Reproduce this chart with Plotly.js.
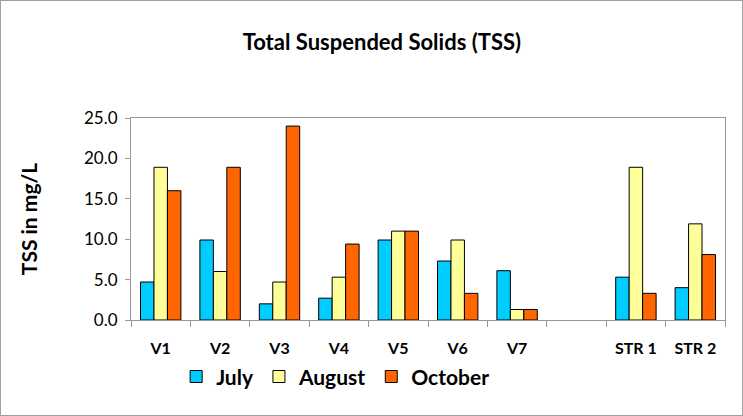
<!DOCTYPE html>
<html>
<head>
<meta charset="utf-8">
<script src="https://cdn.plot.ly/plotly-3.0.1.min.js"></script>
<style>
  body { margin: 0; background: #fff; }
  #tss_graph { width: 741px; height: 414px; border: 1px solid #a0a0a0; }
</style>
</head>
<body>
<div id="tss_graph"></div>
<script>
var sites = ['V1', 'V2', 'V3', 'V4', 'V5', 'V6', 'V7', ' ', 'STR 1', 'STR 2'];
var july = [4.7, 9.9, 2.0, 2.7, 9.9, 7.3, 6.1, null, 5.3, 4.0];
var august = [18.9, 6.0, 4.7, 5.3, 11.0, 9.9, 1.3, null, 18.9, 11.9];
var october = [16.0, 18.9, 24.0, 9.4, 11.0, 3.3, 1.3, null, 3.3, 8.1];

function series(name, y, color) {
  return {
    x: sites,
    y: y,
    type: 'bar',
    name: name,
    marker: { color: color, line: { color: '#000', width: 1 } }
  };
}

var data_tss = [
  series('July', july, '#00CCFF'),
  series('August', august, '#FFFF99'),
  series('October', october, '#FF6600')
];

var layout_tss = {
  width: 741,
  height: 414,
  margin: { l: 130, r: 17, t: 117, b: 95 },
  paper_bgcolor: '#fff',
  plot_bgcolor: '#fff',
  font: { family: 'Lato, "Open Sans", sans-serif', color: '#000' },
  title: {
    text: '<b>Total Suspended Solids (TSS)</b>',
    font: { size: 22 },
    xref: 'container', x: 0.514,
    yref: 'container', y: 0.9, yanchor: 'middle'
  },
  barmode: 'group',
  bargap: 0.32,
  bargroupgap: 0,
  showlegend: true,
  legend: {
    orientation: 'h',
    x: 0.076, xanchor: 'left',
    y: -0.18, yanchor: 'top',
    font: { size: 21, weight: 'bold' },
    itemwidth: 30,
    tracegroupgap: 0
  },
  xaxis: {
    type: 'category',
    tickson: 'boundaries',
    ticks: 'outside',
    ticklen: 6,
    tickcolor: '#999',
    tickfont: { size: 16, weight: 'bold' },
    ticklabelstandoff: 14,
    showline: true,
    linecolor: '#999',
    linewidth: 1,
    mirror: true,
    showgrid: false
  },
  yaxis: {
    range: [0, 25],
    dtick: 5,
    tickformat: '.1f',
    ticks: 'outside',
    ticklen: 5,
    tickcolor: '#999',
    tickfont: { size: 17 },
    ticklabelstandoff: 4,
    showline: true,
    linecolor: '#999',
    linewidth: 1,
    mirror: true,
    showgrid: false,
    zeroline: false,
    title: { text: '<b>TSS in mg/L</b>', font: { size: 21 }, standoff: 40 }
  }
};

Plotly.newPlot('tss_graph', data_tss, layout_tss, { displayModeBar: false });
</script>
</body>
</html>
